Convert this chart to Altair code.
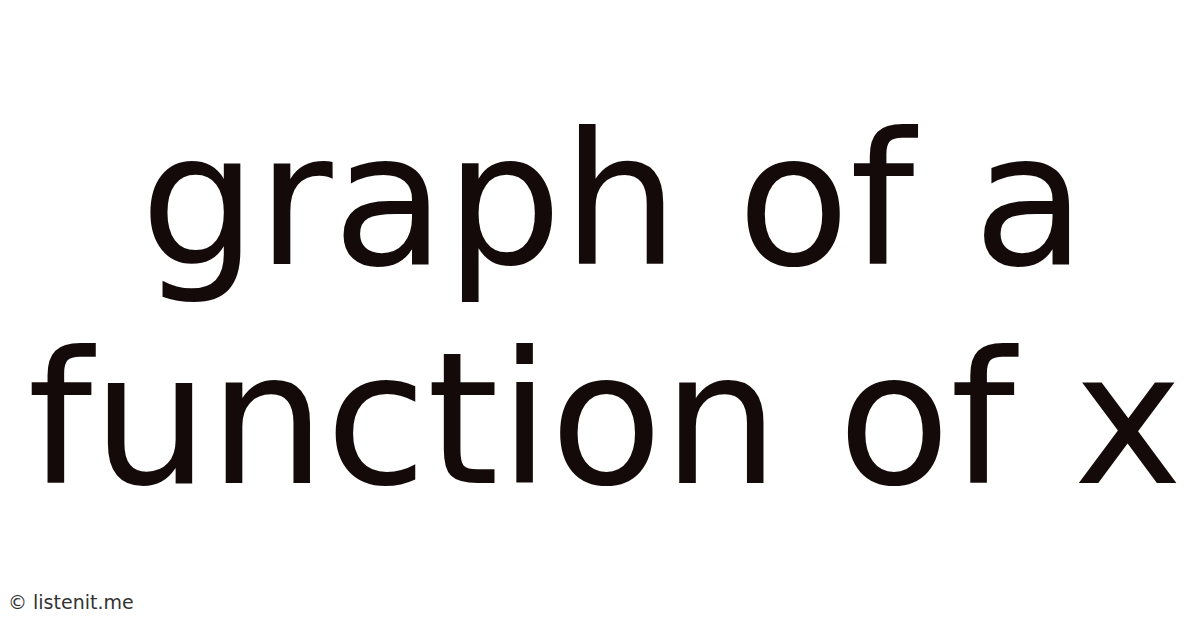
import altair as alt
import pandas as pd

line_one = ["graph of a"]
line_two = ["function of x"]
footer = ["© listenit.me"]

df1 = pd.DataFrame({"text": line_one})
df2 = pd.DataFrame({"text": line_two})
foot_df = pd.DataFrame({"text": footer})

common = dict(font="DejaVu Sans", fontSize=184, color="#140a0a",
              align="center", baseline="alphabetic")

l1 = alt.Chart(df1).mark_text(**common).encode(
    x=alt.value(605), y=alt.value(256), text="text:N")

l2 = alt.Chart(df2).mark_text(**common).encode(
    x=alt.value(597), y=alt.value(475), text="text:N")

foot = alt.Chart(foot_df).mark_text(
    font="DejaVu Sans", fontSize=19, color="#333333",
    align="left", baseline="alphabetic"
).encode(
    x=alt.value(0),
    y=alt.value(601),
    text="text:N",
)

chart = alt.layer(l1, l2, foot).properties(
    width=1184, height=612, padding=0, background="white"
).configure_view(stroke=None)

chart.save("out.html", embed_options={"renderer": "svg", "actions": False})
